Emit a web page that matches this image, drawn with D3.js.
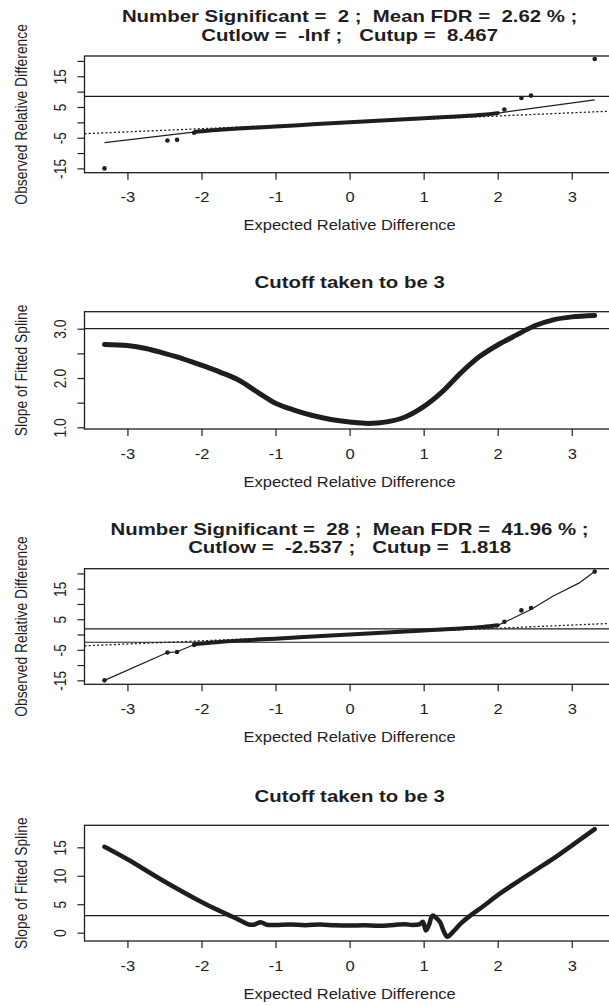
<!DOCTYPE html>
<html>
<head>
<meta charset="utf-8">
<script src="https://cdn.jsdelivr.net/npm/d3@7"></script>
<style>
  html, body { margin: 0; padding: 0; background: #fff; }
  svg { display: block; font-family: "Liberation Sans", Arial, sans-serif; }
</style>
</head>
<body>
<svg id="chart" width="609" height="1006"></svg>
<script>
// ---- data -------------------------------------------------------------
const xTicks = [-3, -2, -1, 0, 1, 2, 3];

// observed vs expected relative differences (shared by both delta runs)
const outlierExpected = [-3.31, -2.46, -2.33, -2.10, 2.09, 2.32, 2.45, 3.31];
const outlierObserved = [-15.0, -5.9, -5.7, -3.4, 4.2, 7.9, 8.7, 20.6];
// bulk of genes: dense run of points along the fit
const bulkExpected = [-2.08, -1.8, -1.5, -1.0, -0.5, 0.0, 0.5, 1.0, 1.5, 1.8, 2.0];
const bulkObserved = [-3.1, -2.5, -2.0, -1.35, -0.65, 0.0, 0.7, 1.35, 2.0, 2.5, 3.0];

// 45-degree reference line
const refExpected = [-3.58, 3.58];
const refObserved = [-3.7, 3.7];

// fitted line, first run (linear tails)
const fitLowExpected1 = [-3.31, -2.08];
const fitLowObserved1 = [-6.6, -3.1];
const fitHighExpected1 = [2.0, 3.31];
const fitHighObserved1 = [3.0, 7.3];

// fitted spline, second run (follows the tails)
const fitLowExpected2 = [-3.31, -2.46, -2.33, -2.08];
const fitLowObserved2 = [-15.0, -5.9, -5.65, -3.1];
const fitHighExpected2 = [2.0, 2.09, 2.45, 2.75, 3.11, 3.31];
const fitHighObserved2 = [3.0, 4.0, 8.2, 12.6, 17.0, 20.6];

const cutup1 = 8.467;
const cutup2 = 1.818;
const cutlow2 = -2.537;
const slopeCutoff = 3;

// slope of the fitted spline, first run
const slopeX1 = [-3.31, -3.0, -2.75, -2.5, -2.25, -2.0, -1.75, -1.5, -1.25, -1.0, -0.75, -0.5, -0.25,
                 0.0, 0.25, 0.5, 0.75, 1.0, 1.25, 1.5, 1.75, 2.0, 2.25, 2.5, 2.75, 3.0, 3.31];
const slopeY1 = [2.68, 2.66, 2.6, 2.5, 2.39, 2.26, 2.12, 1.96, 1.72, 1.49, 1.35, 1.24, 1.16,
                 1.11, 1.08, 1.11, 1.21, 1.42, 1.72, 2.1, 2.43, 2.67, 2.87, 3.06, 3.18, 3.24, 3.27];

// slope of the fitted spline, second run
const slopeX2 = [-3.31, -3.0, -2.5, -2.0, -1.75, -1.5, -1.35, -1.28, -1.2, -1.12, -1.0, -0.8, -0.6,
                 -0.4, -0.2, 0.0, 0.2, 0.4, 0.6, 0.75, 0.85, 0.95, 0.99, 1.03, 1.07, 1.12, 1.17,
                 1.22, 1.27, 1.32, 1.4, 1.5, 1.63, 1.8, 2.0, 2.25, 2.5, 2.75, 3.0, 3.31];
const slopeY2 = [15.1, 12.9, 9.0, 5.4, 3.8, 2.3, 1.4, 1.45, 1.85, 1.4, 1.35, 1.45, 1.3,
                 1.45, 1.3, 1.25, 1.3, 1.2, 1.35, 1.5, 1.35, 1.5, 1.9, 0.4, 1.3, 3.0, 2.6,
                 1.9, 0.3, -0.7, 0.2, 1.6, 3.0, 4.6, 6.6, 8.8, 10.9, 13.0, 15.3, 18.2];

const yTicksDiff = [-15, -10, -5, 0, 5, 10, 15, 20];
const yLabelsDiff = [-15, -5, 5, 15];
const yTicksSlope1 = [1.0, 1.5, 2.0, 2.5, 3.0];
const yLabelsSlope1 = [1.0, 2.0, 3.0];
const yTicksSlope2 = [0, 5, 10, 15];

const titles1 = ["Number Significant =  2 ;  Mean FDR =  2.62 % ;", "Cutlow =  -Inf ;   Cutup =  8.467"];
const titles2 = ["Cutoff taken to be 3"];
const titles3 = ["Number Significant =  28 ;  Mean FDR =  41.96 % ;", "Cutlow =  -2.537 ;   Cutup =  1.818"];
const titles4 = ["Cutoff taken to be 3"];
const xTitle = "Expected Relative Difference";
const yTitleDiff = "Observed Relative Difference";
const yTitleSlope = "Slope of Fitted Spline";

// ---- drawing ----------------------------------------------------------
const K = 0.84;            // vertical text compression of the device
const INK = "#1e1e1e";
const FS = 16.5, FS_MAIN = 20.4;
const left = 84.5, right = 614.7;
const x = d3.scaleLinear().domain([-3.58, 3.58]).range([left, right]);
const svg = d3.select("#chart");
const defs = svg.append("defs");

const zip = (a, b) => a.map((v, i) => [v, b[i]]);

function drawPanel(p, idx) {
  const bottom = p.top + p.height;
  const y = d3.scaleLinear().domain(p.yDomain).range([bottom, p.top]);
  const g = svg.append("g");

  defs.append("clipPath").attr("id", "clip" + idx)
    .append("rect").attr("x", left).attr("y", p.top)
    .attr("width", right - left).attr("height", p.height);
  const plot = g.append("g").attr("clip-path", `url(#clip${idx})`);
  p.draw(plot, y);

  g.append("rect")
    .attr("x", left).attr("y", p.top)
    .attr("width", right - left).attr("height", p.height)
    .attr("fill", "none").attr("stroke", INK).attr("stroke-width", 1.3);

  // x axis
  const xa = g.append("g").attr("transform", `translate(0,${bottom})`)
    .call(d3.axisBottom(x).tickValues(xTicks).tickSize(7).tickFormat(d => String(d)));
  xa.attr("font-size", null).attr("font-family", null);
  xa.select(".domain").remove();
  xa.selectAll(".tick line").attr("stroke", INK).attr("stroke-width", 1.2);
  xa.selectAll(".tick text")
    .attr("y", null).attr("dy", null)
    .attr("transform", `translate(0,29.5) scale(1,${K})`)
    .attr("font-size", FS).attr("fill", INK);

  // y axis
  const ya = g.append("g").attr("transform", `translate(${left},0)`)
    .call(d3.axisLeft(y).tickValues(p.yTicks).tickSize(7)
      .tickFormat(d => p.yLabels.includes(d) ? p.fmt(d) : ""));
  ya.attr("font-size", null).attr("font-family", null);
  ya.select(".domain").remove();
  ya.selectAll(".tick line").attr("stroke", INK).attr("stroke-width", 1.2);
  ya.selectAll(".tick text")
    .attr("x", null).attr("dy", null)
    .attr("text-anchor", "middle")
    .attr("transform", `translate(-18.5,0) scale(1,${K}) rotate(-90)`)
    .attr("font-size", FS).attr("fill", INK);

  // axis titles
  g.append("text")
    .attr("text-anchor", "middle")
    .attr("transform", `translate(${x(0)},${bottom + 57.5}) scale(1,${K})`)
    .attr("font-size", FS).attr("fill", INK)
    .text(xTitle);
  g.append("text")
    .attr("text-anchor", "middle")
    .attr("transform", `translate(26.5,${(p.top + bottom) / 2}) scale(1,${K}) rotate(-90)`)
    .attr("font-size", FS).attr("fill", INK)
    .text(p.ylab);

  // main title
  const offs = p.title.length === 2 ? [-34, -15.3] : [-23.6];
  p.title.forEach((t, i) => {
    g.append("text")
      .attr("xml:space", "preserve")
      .style("white-space", "pre")
      .attr("text-anchor", "middle")
      .attr("transform", `translate(${x(0)},${p.top + offs[i]}) scale(1,${K})`)
      .attr("font-size", FS_MAIN).attr("font-weight", "bold").attr("fill", INK)
      .text(t);
  });
}

function hline(plot, y, v) {
  plot.append("line")
    .attr("x1", left).attr("x2", right)
    .attr("y1", y(v)).attr("y2", y(v))
    .attr("stroke", INK).attr("stroke-width", 1.2);
}

function qqDraw(fitLow, fitHigh, cuts) {
  return (plot, y) => {
    const straight = d3.line().x(d => x(d[0])).y(d => y(d[1]));
    const smooth = d3.line().x(d => x(d[0])).y(d => y(d[1])).curve(d3.curveCatmullRom);
    cuts.forEach(c => hline(plot, y, c));
    plot.append("path").datum(zip(refExpected, refObserved))
      .attr("d", straight).attr("fill", "none").attr("stroke", INK)
      .attr("stroke-width", 1.3).attr("stroke-dasharray", "2,2.2");
    [fitLow, fitHigh].forEach(seg => {
      plot.append("path").datum(seg)
        .attr("d", straight).attr("fill", "none").attr("stroke", INK)
        .attr("stroke-width", 1.2).attr("stroke-linejoin", "round");
    });
    plot.append("path").datum(zip(bulkExpected, bulkObserved))
      .attr("d", smooth).attr("fill", "none").attr("stroke", INK)
      .attr("stroke-width", 4).attr("stroke-linecap", "round");
    plot.selectAll("circle.pt").data(zip(outlierExpected, outlierObserved)).enter()
      .append("circle").attr("class", "pt")
      .attr("cx", d => x(d[0])).attr("cy", d => y(d[1]))
      .attr("r", 2.3).attr("fill", INK);
  };
}

function slopeDraw(xs, ys, width) {
  return (plot, y) => {
    hline(plot, y, slopeCutoff);
    const line = d3.line().x(d => x(d[0])).y(d => y(d[1])).curve(d3.curveCatmullRom);
    plot.append("path").datum(zip(xs, ys))
      .attr("d", line).attr("fill", "none").attr("stroke", INK)
      .attr("stroke-width", width).attr("stroke-linecap", "round").attr("stroke-linejoin", "round");
  };
}

const panels = [
  { top: 56, height: 116.7, yDomain: [-16.4, 21.6], yTicks: yTicksDiff, yLabels: yLabelsDiff,
    fmt: d => String(d), ylab: yTitleDiff, title: titles1,
    draw: qqDraw(zip(fitLowExpected1, fitLowObserved1), zip(fitHighExpected1, fitHighObserved1), [cutup1]) },
  { top: 311.7, height: 117.3, yDomain: [0.966, 3.345], yTicks: yTicksSlope1, yLabels: yLabelsSlope1,
    fmt: d => d.toFixed(1), ylab: yTitleSlope, title: titles2,
    draw: slopeDraw(slopeX1, slopeY1, 5) },
  { top: 568.7, height: 115.6, yDomain: [-16.3, 21.55], yTicks: yTicksDiff, yLabels: yLabelsDiff,
    fmt: d => String(d), ylab: yTitleDiff, title: titles3,
    draw: qqDraw(zip(fitLowExpected2, fitLowObserved2), zip(fitHighExpected2, fitHighObserved2), [cutup2, cutlow2]) },
  { top: 825.3, height: 115.7, yDomain: [-1.46, 18.87], yTicks: yTicksSlope2, yLabels: yTicksSlope2,
    fmt: d => String(d), ylab: yTitleSlope, title: titles4,
    draw: slopeDraw(slopeX2, slopeY2, 4.5) }
];

panels.forEach(drawPanel);
</script>
</body>
</html>
